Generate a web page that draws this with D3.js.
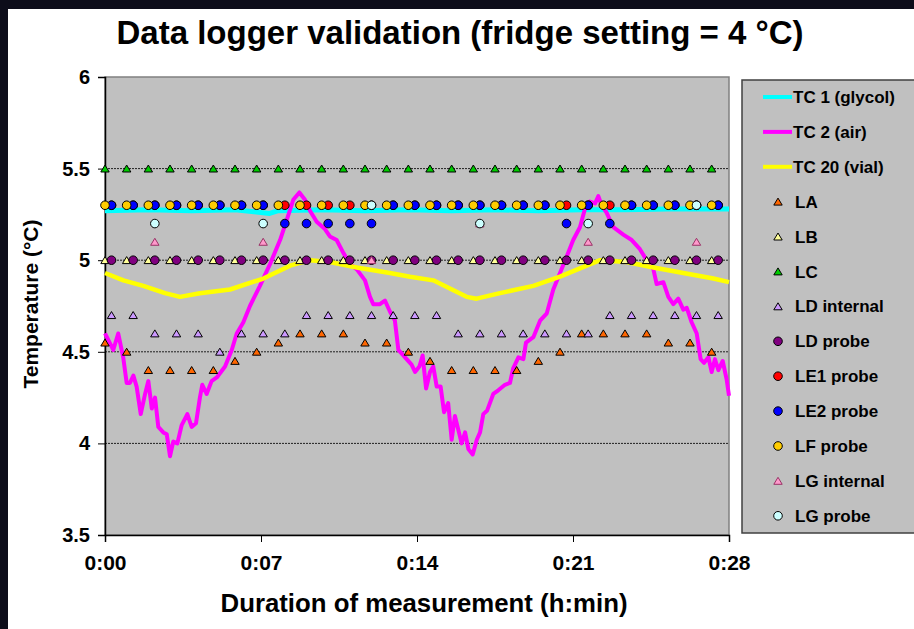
<!DOCTYPE html>
<html>
<head>
    <title></title>
    <meta charset="utf-8">
    <style>
        body { margin: 0; background: #0d0d1a; }
        text { font-family: 'Liberation Sans', Arial, sans-serif; font-weight: bold; }
    </style>
</head>
<body>
<script src="https://d3js.org/d3.v7.min.js"></script>
<script>
    // sample times in minutes
    var tA = [0,1,2,3,4,5,6,7,8,9,10,11,12,13,14,15,16,17,18,19,20,21,22,23,24,25,26,27,28];
    var tB = [0.3,1.3,2.3,3.3,4.3,5.3,6.3,7.3,8.3,9.3,10.3,11.3,12.3,13.3,14.3,15.3,16.3,17.3,18.3,19.3,20.3,21.3,22.3,23.3,24.3,25.3,26.3,27.3,28.3];
    var tG = [2.3,7.3,12.3,17.3,22.3,27.3];

    var LA = [4.55,4.5,4.4,4.4,4.4,4.4,4.45,4.5,4.55,4.6,4.6,4.6,4.55,4.55,4.5,4.45,4.4,4.4,4.4,4.4,4.45,4.5,4.6,4.6,4.6,4.6,4.55,4.55,4.5];
    var LB = [5,5,5,5,5,5,5,5,5,5,5,5,5,5,5,5,5,5,5,5,5,5,5,5,5,5,5,5,5];
    var LC = [5.5,5.5,5.5,5.5,5.5,5.5,5.5,5.5,5.5,5.5,5.5,5.5,5.5,5.5,5.5,5.5,5.5,5.5,5.5,5.5,5.5,5.5,5.5,5.5,5.5,5.5,5.5,5.5,5.5];
    var LDint = [4.7,4.7,4.6,4.6,4.6,4.5,4.6,4.6,4.6,4.7,4.7,4.7,4.7,4.7,4.7,4.7,4.6,4.6,4.6,4.6,4.6,4.6,4.6,4.7,4.7,4.7,4.7,4.7,4.7];
    var LDprobe = [5,5,5,5,5,5,5,5,5,5,5,5,5,5,5,5,5,5,5,5,5,5,5,5,5,5,5,5,5];
    var LE1 = [5.3,5.3,5.3,5.3,5.3,5.3,5.3,5.3,5.3,5.3,5.3,5.3,5.3,5.3,5.3,5.3,5.3,5.3,5.3,5.3,5.3,5.3,5.3,5.3,5.3,5.3,5.3,5.3,5.3];
    var LE2 = [5.3,5.3,5.3,5.3,5.3,5.3,5.3,5.3,5.2,5.2,5.2,5.2,5.2,5.3,5.3,5.3,5.3,5.3,5.3,5.3,5.3,5.2,5.3,5.2,5.3,5.3,5.3,5.3,5.3];
    var LF = [5.3,5.3,5.3,5.3,5.3,5.3,5.3,5.3,5.3,5.3,5.3,5.3,5.3,5.3,5.3,5.3,5.3,5.3,5.3,5.3,5.3,5.3,5.3,5.3,5.3,5.3,5.3,5.3,5.3];
    var LGint = [5.1,5.1,5.0,5.2,5.1,5.1];
    var LGprobe = [5.2,5.2,5.3,5.2,5.2,5.3];

    // thermocouples
    var tc1Time = [0,2,4,6,7.6,8,10,12,14,16,18,20,22,24,26,28.8];
    var tc1 = [5.27,5.275,5.27,5.275,5.255,5.27,5.275,5.27,5.275,5.27,5.275,5.27,5.275,5.275,5.28,5.28];

    var tc2Time = [0,0.38,0.61,0.84,1,1.15,1.31,1.46,1.65,1.85,2,2.16,2.31,2.46,2.69,2.85,3,3.15,3.34,3.54,3.8,4,4.2,4.38,4.49,4.69,4.92,5.16,5.54,5.85,6.08,6.38,6.69,7.15,7.62,8.08,8.39,8.69,8.97,9.23,9.46,9.77,10.15,10.38,10.69,11,11.31,11.62,12,12.23,12.38,12.69,12.92,13.15,13.38,13.54,13.77,13.92,14.15,14.31,14.51,14.66,14.82,15,15.15,15.31,15.49,15.65,15.84,16,16.15,16.46,16.62,16.77,16.97,17.16,17.31,17.46,17.64,17.92,18.15,18.46,18.69,18.84,19.08,19.31,19.43,19.77,20.08,20.39,20.69,21,21.31,21.61,21.92,22.15,22.38,22.62,22.77,22.92,23.15,23.46,23.92,24.31,24.69,25,25.31,25.46,25.77,26,26.23,26.46,26.69,26.85,27.08,27.31,27.49,27.65,27.85,28,28.15,28.31,28.51,28.69,28.8];
    var tc2 = [4.6,4.51,4.6,4.47,4.33,4.33,4.37,4.31,4.16,4.27,4.34,4.19,4.25,4.09,4.06,4.05,3.93,4.01,4,4.1,4.16,4.09,4.11,4.25,4.32,4.27,4.34,4.36,4.42,4.51,4.6,4.66,4.75,4.86,4.98,5.11,5.22,5.33,5.37,5.33,5.27,5.21,5.17,5.13,5.11,5.04,4.98,4.95,4.89,4.8,4.76,4.76,4.78,4.72,4.67,4.51,4.48,4.46,4.43,4.39,4.42,4.48,4.3,4.39,4.42,4.31,4.31,4.17,4.22,4.02,4.15,4,4.06,3.97,3.94,4.02,4.06,4.16,4.18,4.27,4.29,4.32,4.33,4.41,4.47,4.46,4.55,4.58,4.67,4.71,4.84,4.93,5.02,5.11,5.18,5.28,5.32,5.31,5.35,5.3,5.26,5.18,5.14,5.11,5.06,5,4.95,4.87,4.88,4.8,4.76,4.79,4.73,4.74,4.66,4.6,4.46,4.44,4.47,4.39,4.46,4.4,4.45,4.35,4.26];

    var tc20Time = [0,0.85,1.77,2.77,3.46,4.38,5.77,7.31,8.54,9.46,10.38,11.62,13.15,14.08,15.15,16.69,17.15,18.23,19.77,21,22.23,22.85,24.08,25.31,26.69,28.08,28.8];
    var tc20 = [4.93,4.89,4.86,4.82,4.8,4.82,4.84,4.9,4.97,5,4.99,4.96,4.93,4.91,4.89,4.8,4.79,4.82,4.86,4.91,4.97,5,4.99,4.96,4.93,4.9,4.88];

    var xTicks = [0, 7.2, 14.4, 21.6, 28.8];
    var xTickLabels = ['0:00', '0:07', '0:14', '0:21', '0:28'];
    var yTicks = [3.5, 4, 4.5, 5, 5.5, 6];

    var W = 914, H = 629;
    var plot = { left: 105, right: 729, top: 77, bottom: 535 };

    var svg = d3.select('body').append('svg')
        .attr('width', W)
        .attr('height', H)
        .style('display', 'block');

    // dark frame and white slide
    svg.append('rect').attr('width', W).attr('height', H).attr('fill', '#0d0d1a');
    svg.append('rect').attr('x', 8).attr('y', 9).attr('width', W - 8).attr('height', H - 9).attr('fill', '#ffffff');

    var x = d3.scaleLinear().domain([0, 28.8]).range([plot.left, plot.right]);
    var y = d3.scaleLinear().domain([3.5, 6]).range([plot.bottom, plot.top]);

    // plot area
    svg.append('rect')
        .attr('x', plot.left).attr('y', plot.top)
        .attr('width', plot.right - plot.left).attr('height', plot.bottom - plot.top)
        .attr('fill', '#c0c0c0')
        .attr('stroke', '#808080').attr('stroke-width', 1.5);

    // gridlines
    svg.append('g').selectAll('line')
        .data([4, 4.5, 5, 5.5])
        .enter().append('line')
        .attr('x1', plot.left).attr('x2', plot.right)
        .attr('y1', function (d) { return y(d); })
        .attr('y2', function (d) { return y(d); })
        .attr('stroke', '#202020')
        .attr('stroke-width', 1)
        .attr('stroke-dasharray', '2,1');

    // axes
    var yAxis = svg.append('g')
        .attr('transform', 'translate(' + plot.left + ',0)')
        .call(d3.axisLeft(y).tickValues(yTicks).tickSize(7).tickPadding(8)
            .tickFormat(function (d) { return d; }));
    var xAxis = svg.append('g')
        .attr('transform', 'translate(0,' + plot.bottom + ')')
        .call(d3.axisBottom(x).tickValues(xTicks).tickSize(7).tickPadding(13)
            .tickFormat(function (d, i) { return xTickLabels[i]; }));
    [xAxis, yAxis].forEach(function (a) {
        a.select('.domain').attr('stroke', '#000').attr('stroke-width', 1.5);
        a.selectAll('.tick line').attr('stroke', '#000');
        a.selectAll('.tick text')
            .attr('font-family', "'Liberation Sans', Arial, sans-serif")
            .attr('font-weight', 'bold')
            .attr('fill', '#000');
    });
    xAxis.selectAll('.tick text').attr('font-size', 21);
    yAxis.selectAll('.tick text').attr('font-size', 20);

    // titles
    svg.append('text')
        .attr('x', 460).attr('y', 44)
        .attr('text-anchor', 'middle')
        .attr('font-size', 33)
        .text('Data logger validation (fridge setting = 4 °C)');
    svg.append('text')
        .attr('x', 424).attr('y', 612)
        .attr('text-anchor', 'middle')
        .attr('font-size', 25)
        .attr('textLength', 407)
        .attr('lengthAdjust', 'spacingAndGlyphs')
        .text('Duration of measurement (h:min)');
    svg.append('text')
        .attr('transform', 'translate(38,304) rotate(-90)')
        .attr('text-anchor', 'middle')
        .attr('font-size', 21)
        .text('Temperature (°C)');

    // series
    var tri = 'M0,-3.6L4.2,3.4L-4.2,3.4Z';
    var lines = [
        { name: 'TC 1 (glycol)', t: tc1Time, v: tc1, color: '#00ffff', width: 5 },
        { name: 'TC 2 (air)', t: tc2Time, v: tc2, color: '#ff00ff', width: 4 },
        { name: 'TC 20 (vial)', t: tc20Time, v: tc20, color: '#ffff00', width: 4.5 }
    ];
    var markers = [
        { name: 'LA', t: tA, v: LA, shape: 'tri', fill: '#ff6600', stroke: '#000' },
        { name: 'LB', t: tA, v: LB, shape: 'tri', fill: '#ffff99', stroke: '#000' },
        { name: 'LC', t: tA, v: LC, shape: 'tri', fill: '#00cc00', stroke: '#000' },
        { name: 'LD internal', t: tB, v: LDint, shape: 'tri', fill: '#cc99ff', stroke: '#000' },
        { name: 'LD probe', t: tB, v: LDprobe, shape: 'circle', fill: '#800080', stroke: '#000' },
        { name: 'LE1 probe', t: tB, v: LE1, shape: 'circle', fill: '#ff0000', stroke: '#000' },
        { name: 'LE2 probe', t: tB, v: LE2, shape: 'circle', fill: '#0000ff', stroke: '#000' },
        { name: 'LF probe', t: tA, v: LF, shape: 'circle', fill: '#ffcc00', stroke: '#000' },
        { name: 'LG internal', t: tG, v: LGint, shape: 'tri', fill: '#ff99cc', stroke: '#993366' },
        { name: 'LG probe', t: tG, v: LGprobe, shape: 'circle', fill: '#ccffff', stroke: '#000' }
    ];

    var line = d3.line()
        .x(function (d) { return x(d[0]); })
        .y(function (d) { return y(d[1]); });

    lines.forEach(function (s) {
        svg.append('path')
            .datum(d3.zip(s.t, s.v))
            .attr('d', line)
            .attr('fill', 'none')
            .attr('stroke', s.color)
            .attr('stroke-width', s.width)
            .attr('stroke-linejoin', 'round');
    });

    function drawMarker(sel, s) {
        if (s.shape === 'tri') {
            sel.append('path').attr('d', tri);
        } else {
            sel.append('circle').attr('r', 4.3);
        }
        sel.select('*')
            .attr('fill', s.fill)
            .attr('stroke', s.stroke)
            .attr('stroke-width', 1);
    }

    markers.forEach(function (s) {
        svg.append('g').selectAll('g')
            .data(d3.zip(s.t, s.v))
            .enter().append('g')
            .attr('transform', function (d) { return 'translate(' + x(d[0]) + ',' + y(d[1]) + ')'; })
            .each(function () { drawMarker(d3.select(this), s); });
    });

    // legend
    var legend = svg.append('g');
    legend.append('rect')
        .attr('x', 742).attr('y', 80)
        .attr('width', 200).attr('height', 453)
        .attr('fill', '#c0c0c0')
        .attr('stroke', '#404040').attr('stroke-width', 1.5);

    var items = lines.concat(markers);
    var entry = legend.selectAll('g.item')
        .data(items)
        .enter().append('g')
        .attr('class', 'item')
        .attr('transform', function (d, i) { return 'translate(0,' + (97 + i * 34.9) + ')'; });

    entry.each(function (d) {
        var g = d3.select(this);
        if (d.color) {
            g.append('line')
                .attr('x1', 763).attr('x2', 792)
                .attr('stroke', d.color).attr('stroke-width', 4);
        } else {
            var m = g.append('g').attr('transform', 'translate(778,0)');
            drawMarker(m, d);
        }
    });
    entry.append('text')
        .attr('x', function (d) { return d.color ? 793 : 795; })
        .attr('y', 6)
        .attr('font-size', 17)
        .text(function (d) { return d.name; });
</script>
</body>
</html>
